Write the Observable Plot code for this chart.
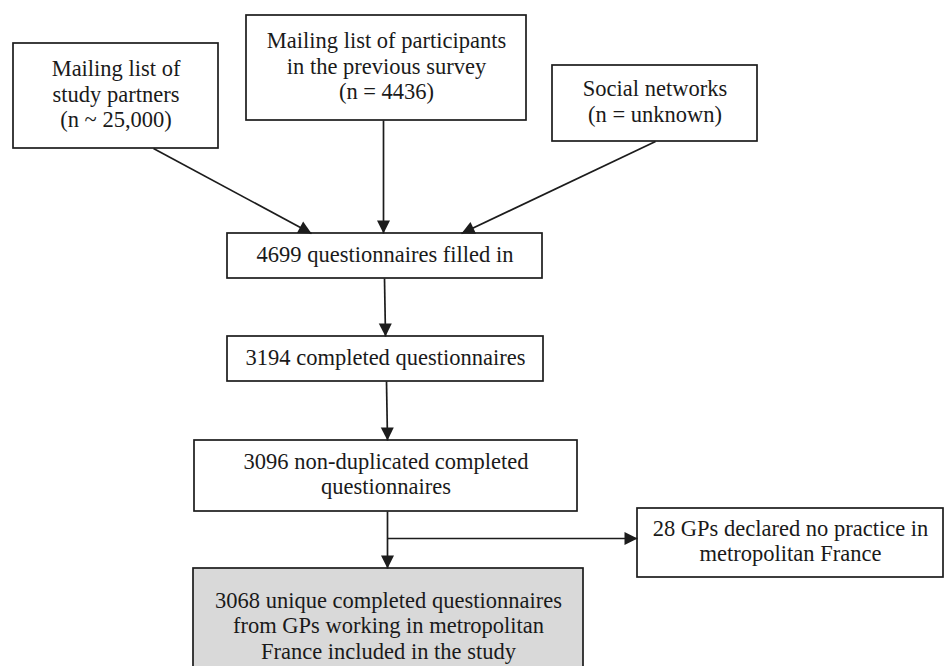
<!DOCTYPE html>
<html>
<head>
<meta charset="utf-8">
<script src="https://cdn.jsdelivr.net/npm/d3@7"></script>
<script src="https://cdn.jsdelivr.net/npm/@observablehq/plot@0.6"></script>
<style>
  html, body { margin: 0; padding: 0; background: #fff; }
  #chart svg { display: block; }
</style>
</head>
<body>
<div id="chart"></div>
<script>
// Flowchart boxes: label and frame (pixel units of the 944x666 canvas)
const boxLabels = [
  "Mailing list of\nstudy partners\n(n ~ 25,000)",
  "Mailing list of participants\nin the previous survey\n(n = 4436)",
  "Social networks\n(n = unknown)",
  "4699 questionnaires filled in",
  "3194 completed questionnaires",
  "3096 non-duplicated completed\nquestionnaires",
  "3068 unique completed questionnaires\nfrom GPs working in metropolitan\nFrance included in the study",
  "28 GPs declared no practice in\nmetropolitan France"
];
const boxX1 = [13, 246, 552, 227, 227, 194, 193, 637];
const boxX2 = [218, 526, 757, 542, 543, 577, 583, 943];
const boxY1 = [43, 15, 65, 233, 336, 440, 568, 508];
const boxY2 = [148, 120, 141, 278, 381, 511, 686, 577];
const boxFill = ["white", "white", "white", "white", "white", "white", "#d9d9d9", "white"];

// Arrows: start and tip
const arrX1 = [153, 383, 655, 384, 386, 387, 387];
const arrY1 = [148, 120, 141, 278, 381, 511, 538];
const arrX2 = [311, 383, 461, 385, 387, 387, 637];
const arrY2 = [233, 233, 233, 336, 440, 568, 538];

const boxes = boxLabels.map((label, i) => ({
  label, x1: boxX1[i], x2: boxX2[i], y1: boxY1[i], y2: boxY2[i], fill: boxFill[i]
}));
const arrows = arrX1.map((x, i) => ({x1: x, y1: arrY1[i], x2: arrX2[i], y2: arrY2[i]}));

const head = {
  draw(context, l, r) {
    context.moveTo(0, -l);
    context.lineTo(6.5, 0);
    context.lineTo(-6.5, 0);
    context.closePath();
  }
};

const ink = "#1c1c1c";

const chart = Plot.plot({
  width: 944,
  height: 666,
  margin: 0,
  x: {domain: [0, 944], range: [0, 944], axis: null},
  y: {domain: [0, 666], range: [0, 666], axis: null},
  style: {background: "white", fontFamily: "'Liberation Serif', 'Times New Roman', serif"},
  marks: [
    Plot.rect(boxes, {x1: "x1", x2: "x2", y1: "y1", y2: "y2", fill: "fill", stroke: ink, strokeWidth: 1.7}),
    Plot.link(arrows, {x1: "x1", y1: "y1", x2: "x2", y2: "y2", stroke: ink, strokeWidth: 1.7}),
    Plot.vector(arrows, {
      x: "x2", y: "y2", length: 13, anchor: "end", shape: head,
      rotate: d => Math.atan2(d.x2 - d.x1, -(d.y2 - d.y1)) * 180 / Math.PI,
      fill: ink, stroke: "none"
    }),
    Plot.text(boxes, {
      x: d => (d.x1 + d.x2) / 2,
      y: d => (d.y1 + d.y2) / 2 - 2.5,
      text: "label",
      fontSize: 22.5,
      lineHeight: 1.13,
      fill: "#1a1a1a",
      textAnchor: "middle",
      lineAnchor: "middle"
    })
  ]
});
document.getElementById("chart").appendChild(chart);
</script>
</body>
</html>
